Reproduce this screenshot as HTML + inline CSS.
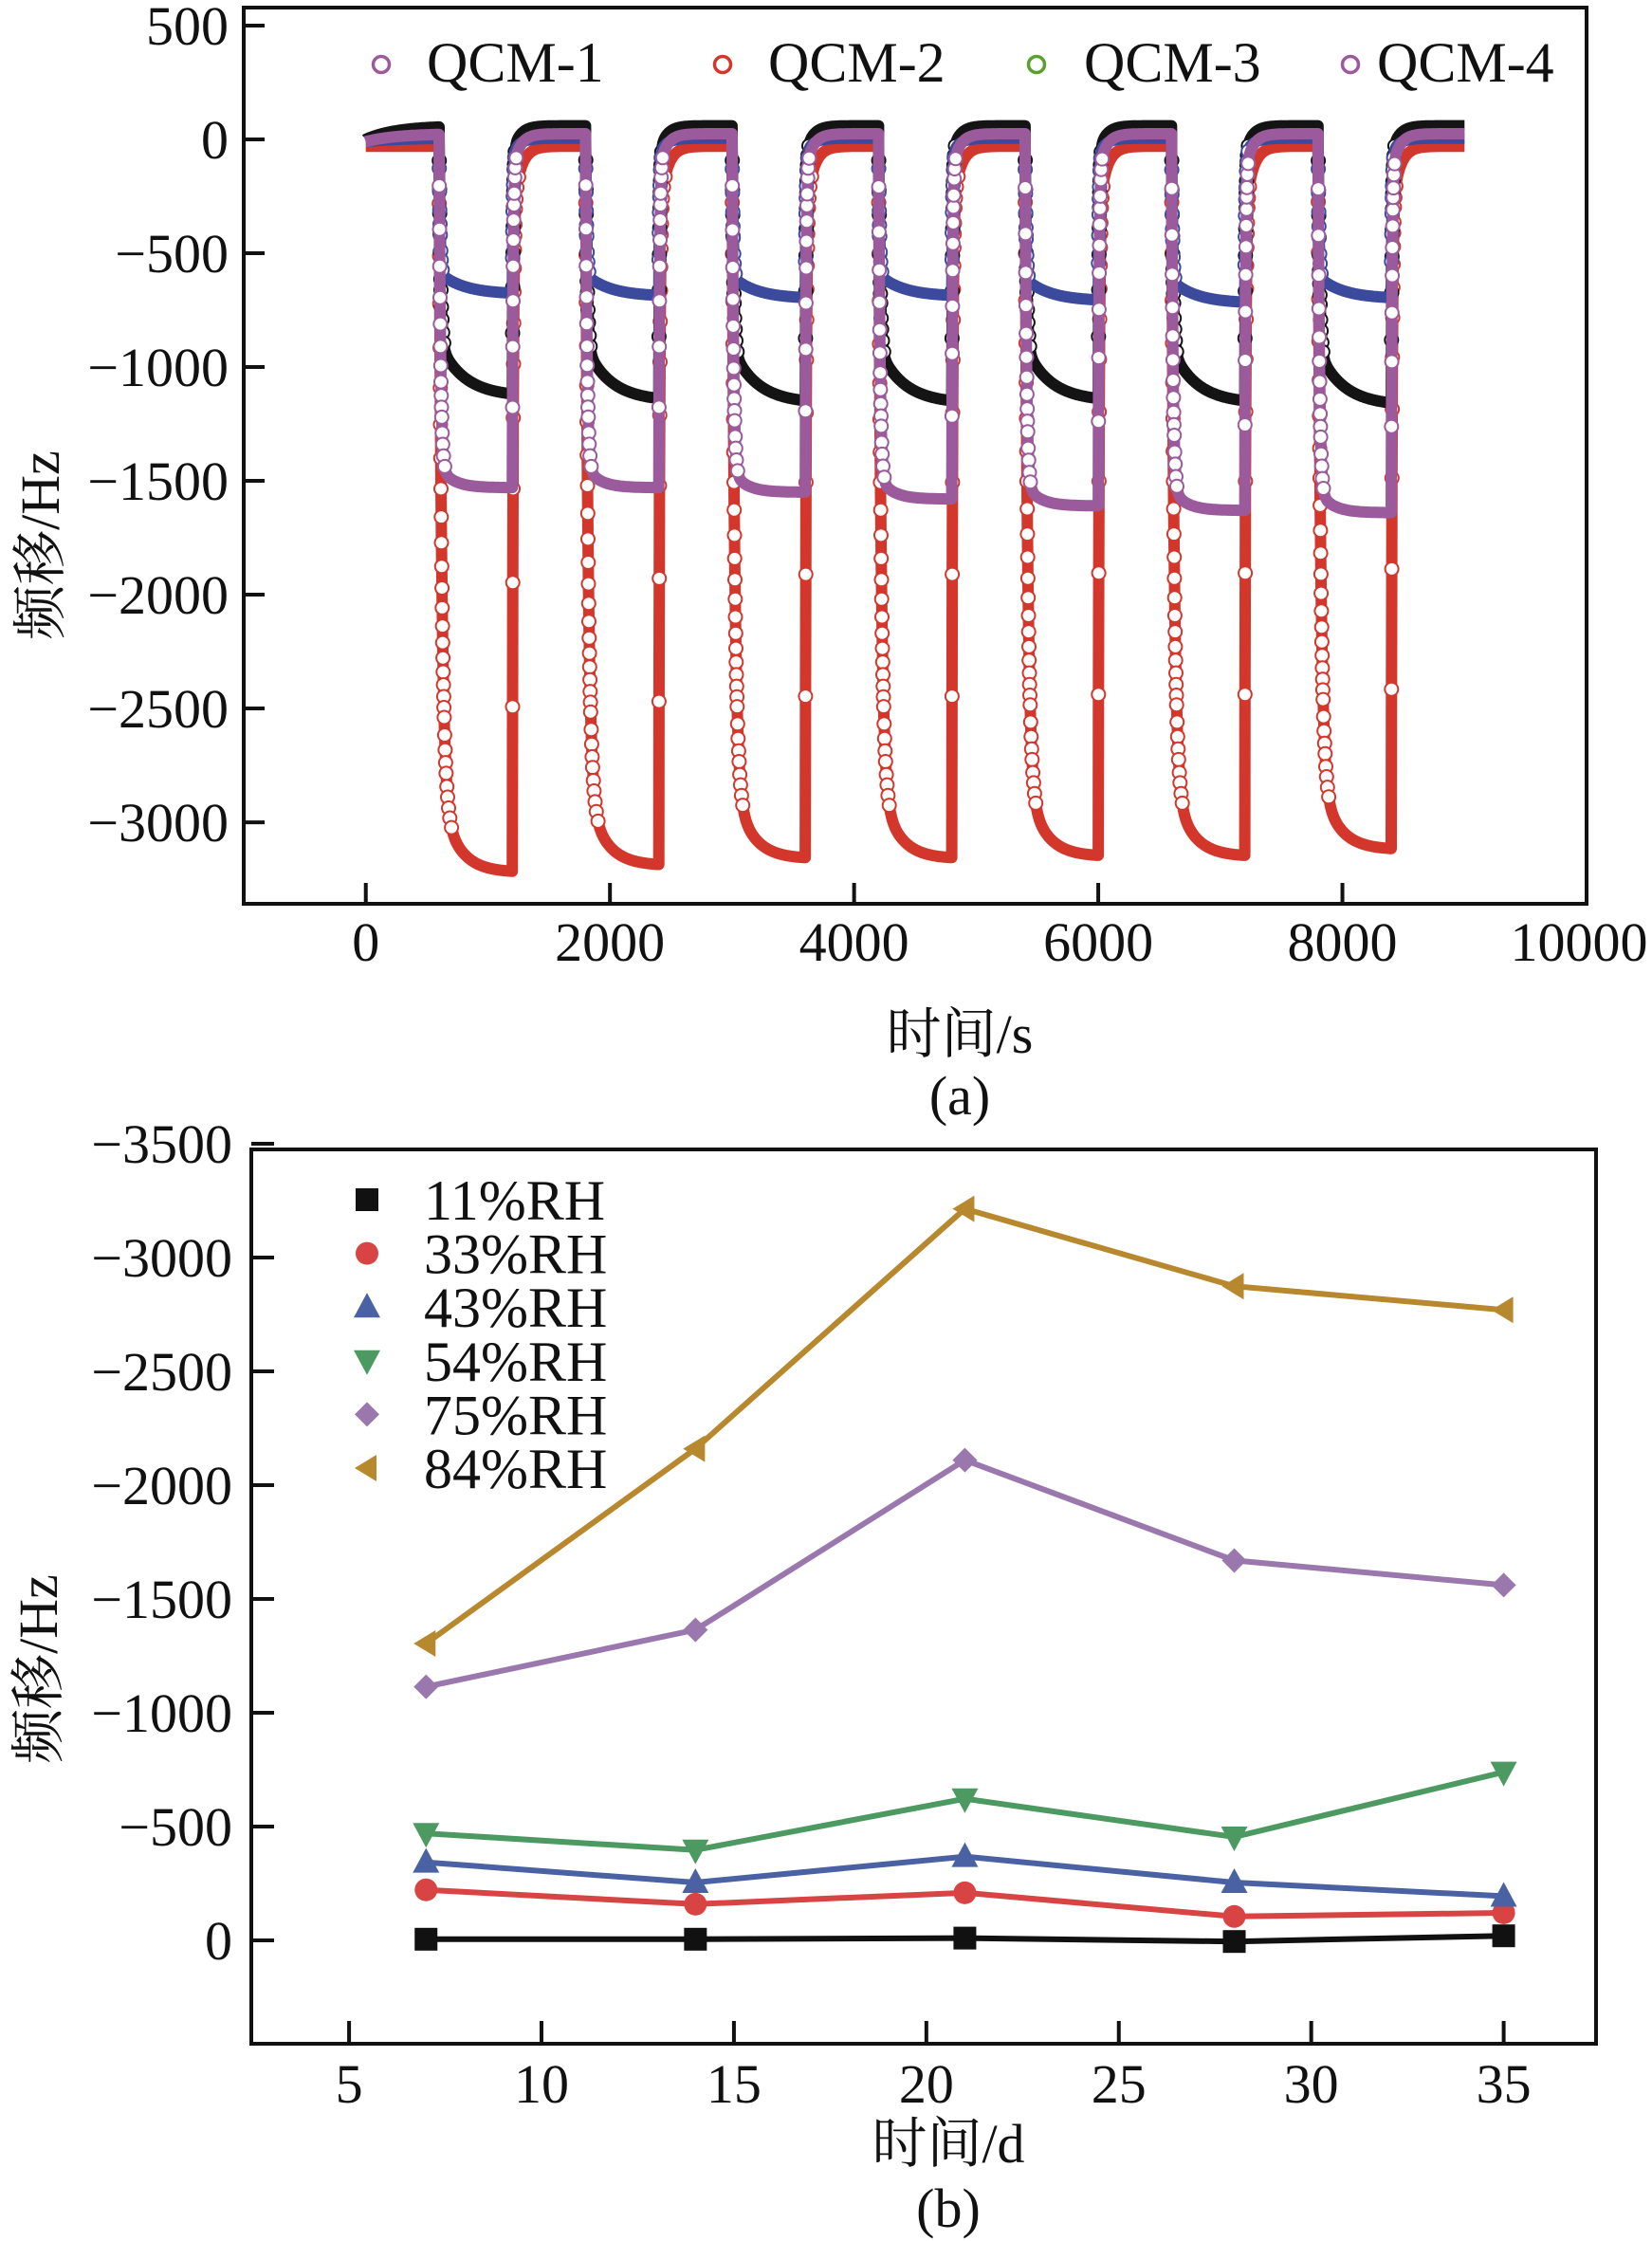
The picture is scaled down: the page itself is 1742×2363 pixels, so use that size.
<!DOCTYPE html>
<html><head><meta charset="utf-8"><style>
html,body{margin:0;padding:0;background:#fff;}
svg{display:block;}
text{font-family:"Liberation Serif","Noto Serif CJK SC","Noto Sans CJK SC",serif;fill:#111;}
</style></head><body>
<svg id="fig" width="1742" height="2363" viewBox="0 0 1742 2363" xmlns="http://www.w3.org/2000/svg">
<g id="chartA"></g>
<g id="chartB"></g>
</svg>
<script>
// ---------- Chart (a) data ----------
const aXTicks = [0, 2000, 4000, 6000, 8000, 10000];
const aYTicks = [500, 0, -500, -1000, -1500, -2000, -2500, -3000];
const aCycleStart = [600, 1800, 3000, 4200, 5400, 6600, 7800];
const aExposure = 600;
const aEndTime = 9000;
const aNames = ["QCM-2", "QCM-1", "QCM-3b", "QCM-4"];
const aColors = ["#d3372c", "#141414", "#3b4a9c", "#9a5a9c"];
const aBaseStart = [-30, 0, -10, -10];
const aBaseLevel = [-30, 60, 5, 25];
const aPlateauRed = [-3220, -3190, -3160, -3160, -3150, -3150, -3120];
const aPlateauBlack = [-1130, -1150, -1160, -1160, -1150, -1160, -1170];
const aPlateauBlue = [-680, -690, -700, -690, -710, -720, -700];
const aPlateauPurple = [-1530, -1530, -1550, -1580, -1610, -1630, -1640];
const aFastFrac = [0.89, 0.80, 0.86, 0.94];
const aFastTau = [22, 12, 8, 12];
const aSlowTau = [140, 200, 200, 110];
const legendA = ["QCM-1", "QCM-2", "QCM-3", "QCM-4"];
const legendAColors = ["#9a5a9c", "#d3372c", "#5aa02c", "#9a5a9c"];

// ---------- Chart (b) data ----------
const bDays = [7, 14, 21, 28, 35];
const bXTicks = [5, 10, 15, 20, 25, 30, 35];
const bYTicks = [-3500, -3000, -2500, -2000, -1500, -1000, -500, 0];
const bRH11 = [-5, -5, -10, 5, -20];
const bRH33 = [-222, -159, -209, -105, -121];
const bRH43 = [-343, -254, -368, -254, -194];
const bRH54 = [-470, -397, -622, -454, -739];
const bRH75 = [-1114, -1364, -2110, -1669, -1561];
const bRH84 = [-1304, -2160, -3214, -2874, -2770];
const bLabels = ["11%RH", "33%RH", "43%RH", "54%RH", "75%RH", "84%RH"];
const bColors = ["#111111", "#d84444", "#4a62a4", "#4c9a62", "#9a78ae", "#b8882e"];
const bShapes = ["square", "circle", "up", "down", "diamond", "left"];

const NS = "http://www.w3.org/2000/svg";
function mk(tag, attrs, parent) {
  const el = document.createElementNS(NS, tag);
  for (const k in attrs) el.setAttribute(k, attrs[k]);
  parent.appendChild(el);
  return el;
}

// ---------- Chart (a) ----------
(function () {
  const g = document.getElementById("chartA");
  const L = 257, R = 1673, T = 8, B = 953;
  const x0 = -1000, x1 = 10000;
  const yTop = 579, yBot = -3358;
  const X = v => L + (v - x0) / (x1 - x0) * (R - L);
  const Y = v => T + (yTop - v) / (yTop - yBot) * (B - T);
  const plateaus = [aPlateauRed, aPlateauBlack, aPlateauBlue, aPlateauPurple];

  function value(s, t) {
    let base = aBaseLevel[s] + (aBaseStart[s] - aBaseLevel[s]) * Math.exp(-t / 250);
    let v = base;
    for (let c = 0; c < aCycleStart.length; c++) {
      const t0 = aCycleStart[c], t1 = t0 + aExposure;
      const P = plateaus[s][c] - base;
      const vAt = dt => P * (1 - aFastFrac[s] * Math.exp(-dt / aFastTau[s]) - (1 - aFastFrac[s]) * Math.exp(-dt / aSlowTau[s]));
      if (t >= t0 && t < t1) { v = base + vAt(t - t0); }
      else if (t >= t1 && t < t1 + 600) {
        const end = vAt(aExposure);
        const dt = t - t1;
        v = base + end * (0.9 * Math.exp(-dt / 7) + 0.1 * Math.exp(-dt / 60));
      }
    }
    return v;
  }

  for (let s = 0; s < 4; s++) {
    const sg = mk("g", {}, g);
    
    
    let pts = [];
    const samples = [];
    for (let t = 0; t <= aEndTime; t += 2) {
      const v = value(s, t);
      samples.push([X(t), Y(v)]);
      pts.push(X(t).toFixed(1) + "," + Y(v).toFixed(1));
    }
    const pl = mk("polyline", { points: pts.join(" "), fill: "none", stroke: aColors[s], "stroke-width": 12, "stroke-linejoin": "round" }, sg);
    
    
    let last = null;
    for (let i = 1; i < samples.length; i++) {
      const [px, py] = samples[i];
      const dy = Math.abs(py - samples[i - 1][1]);
      if (dy > 1.2) {
        if (!last || Math.hypot(px - last[0], py - last[1]) > 10) {
          const c = mk("circle", { cx: px.toFixed(1), cy: py.toFixed(1), r: 7, fill: "#fff", stroke: aColors[s], "stroke-width": 2 }, sg);
          
          
          last = [px, py];
        }
      }
    }
  }

  const fr = mk("rect", { x: L, y: T, width: R - L, height: B - T, fill: "none", stroke: "#111", "stroke-width": 4 }, g);
  
  
  aYTicks.forEach(v => {
    const y = Y(v);
    const tk = mk("line", { x1: L, x2: L + 22, y1: y, y2: y, stroke: "#111", "stroke-width": 4 }, g);
    
    
    const tx = mk("text", { x: L - 16, y: y + 20, "text-anchor": "end", "font-size": 58 }, g);
    tx.textContent = v < 0 ? "\u2212" + Math.abs(v) : String(v);
    
    
  });
  aXTicks.forEach(v => {
    const x = X(v);
    const tk = mk("line", { x1: x, x2: x, y1: B, y2: B - 22, stroke: "#111", "stroke-width": 4 }, g);
    
    
    const tx = mk("text", { x: x - (v === 10000 ? 8 : 0), y: B + 60, "text-anchor": "middle", "font-size": 58 }, g);
    tx.textContent = String(v);
    
    
  });
  const xl = mk("text", { x: 1012, y: 1110, "text-anchor": "middle", "font-size": 58 }, g);
  xl.textContent = "时间/s";
  
  
  const cap = mk("text", { x: 1012, y: 1175, "text-anchor": "middle", "font-size": 58 }, g);
  cap.textContent = "(a)";
  
  
  const yl = mk("text", { x: 0, y: 0, "text-anchor": "middle", "font-size": 58, transform: "translate(62,575) rotate(-90)" }, g);
  yl.textContent = "频移/Hz";
  
  

  const lgX = [402, 762, 1093, 1424];
  const lgTX = [450, 810, 1143, 1452];
  legendA.forEach((n, i) => {
    const lg = mk("g", {}, g);
    
    
    mk("circle", { cx: lgX[i], cy: 68, r: 8.5, fill: "#fff", stroke: legendAColors[i], "stroke-width": 3.5 }, lg);
    const t = mk("text", { x: lgTX[i], y: 86, "font-size": 60 }, lg);
    t.textContent = n;
  });
})();

// ---------- Chart (b) ----------
(function () {
  const g = document.getElementById("chartB");
  const L = 265, R = 1683, T = 1212, B = 2155;
  const x0 = 2.46, x1 = 37.4;
  const X = v => L + (v - x0) / (x1 - x0) * (R - L);
  const Y = v => 2046 + v * (120 / 500);
  const series = [bRH11, bRH33, bRH43, bRH54, bRH75, bRH84];

  function marker(shape, x, y, color, parent) {
    let el;
    if (shape === "square") el = mk("rect", { x: x - 12, y: y - 12, width: 24, height: 24, fill: color }, parent);
    else if (shape === "circle") el = mk("circle", { cx: x, cy: y, r: 12, fill: color }, parent);
    else if (shape === "up") el = mk("polygon", { points: `${x},${y - 15} ${x + 14},${y + 11} ${x - 14},${y + 11}`, fill: color }, parent);
    else if (shape === "down") el = mk("polygon", { points: `${x},${y + 15} ${x + 14},${y - 11} ${x - 14},${y - 11}`, fill: color }, parent);
    else if (shape === "diamond") el = mk("polygon", { points: `${x},${y - 13} ${x + 13},${y} ${x},${y + 13} ${x - 13},${y}`, fill: color }, parent);
    else el = mk("polygon", { points: `${x - 13},${y} ${x + 10},${y - 14} ${x + 10},${y + 14}`, fill: color }, parent);
    return el;
  }

  series.forEach((arr, s) => {
    const sg = mk("g", {}, g);
    
    
    const pts = arr.map((v, i) => X(bDays[i]).toFixed(1) + "," + Y(v).toFixed(1)).join(" ");
    const pl = mk("polyline", { points: pts, fill: "none", stroke: bColors[s], "stroke-width": 6 }, sg);
    
    
    arr.forEach((v, i) => {
      const m = marker(bShapes[s], X(bDays[i]), Y(v), bColors[s], sg);
      
      
    });
  });

  const fr = mk("rect", { x: L, y: T, width: R - L, height: B - T, fill: "none", stroke: "#111", "stroke-width": 4 }, g);
  
  
  bYTicks.forEach(v => {
    const y = Y(v);
    const tk = mk("line", { x1: L, x2: L + 24, y1: y, y2: y, stroke: "#111", "stroke-width": 4 }, g);
    
    
    const tx = mk("text", { x: L - 20, y: y + 20, "text-anchor": "end", "font-size": 58 }, g);
    tx.textContent = v < 0 ? "\u2212" + Math.abs(v) : String(v);
    
    
  });
  bXTicks.forEach(v => {
    const x = X(v);
    const tk = mk("line", { x1: x, x2: x, y1: B, y2: B - 24, stroke: "#111", "stroke-width": 4 }, g);
    
    
    const tx = mk("text", { x: x, y: B + 62, "text-anchor": "middle", "font-size": 58 }, g);
    tx.textContent = String(v);
    
    
  });
  const xl = mk("text", { x: 1000, y: 2280, "text-anchor": "middle", "font-size": 58 }, g);
  xl.textContent = "时间/d";
  
  
  const cap = mk("text", { x: 1000, y: 2348, "text-anchor": "middle", "font-size": 58 }, g);
  cap.textContent = "(b)";
  
  
  const yl = mk("text", { x: 0, y: 0, "text-anchor": "middle", "font-size": 58, transform: "translate(60,1760) rotate(-90)" }, g);
  yl.textContent = "频移/Hz";
  
  

  bLabels.forEach((n, i) => {
    const y = 1265 + i * 56.6;
    const lg = mk("g", {}, g);
    
    
    marker(bShapes[i], 387, y, bColors[i], lg);
    const t = mk("text", { x: 447, y: y + 21, "font-size": 60 }, lg);
    t.textContent = n;
  });
})();
</script>
</body></html>
